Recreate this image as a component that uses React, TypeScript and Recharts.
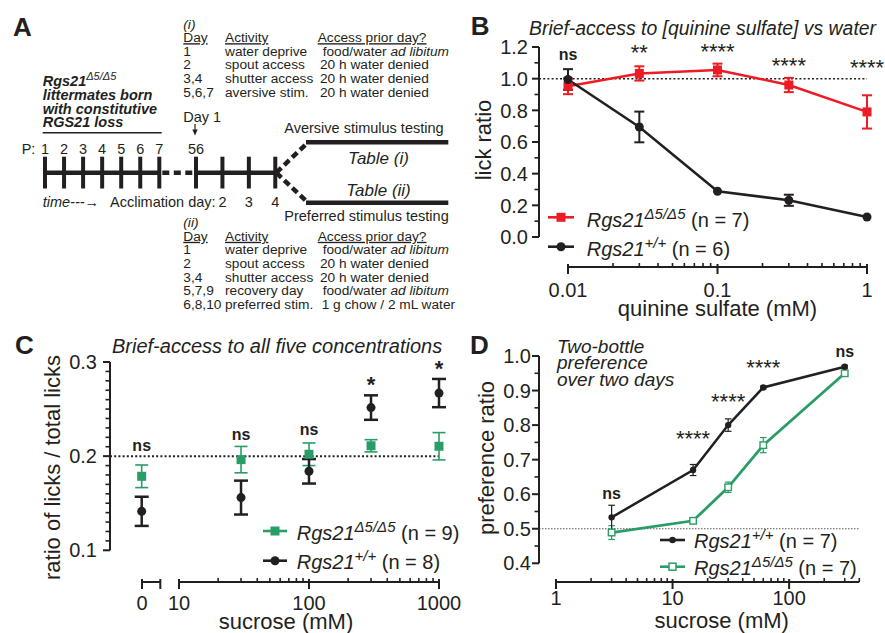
import React from "react";
import {
  ComposedChart,
  ErrorBar,
  Line,
  ReferenceDot,
  ReferenceLine,
  Scatter,
  XAxis,
  YAxis,
} from "recharts";

const FONT = '"Liberation Sans", Arial, Helvetica, sans-serif';
const INK = "#231f20";
const RED = "#ed1c24";
const GREEN = "#2a9d66";

// ---- A: protocol
const postnatalDays = ["1", "2", "3", "4", "5", "6", "7"];
const acclimationDays = ["2", "3", "4"];
const aversiveProtocol = [
  ["1", "water deprive", "food/water ", "ad libitum"],
  ["2", "spout access", "20 h water denied", ""],
  ["3,4", "shutter access", "20 h water denied", ""],
  ["5,6,7", "aversive stim.", "20 h water denied", ""],
];
const preferredProtocol = [
  ["1", "water deprive", "food/water ", "ad libitum"],
  ["2", "spout access", "20 h water denied", ""],
  ["3,4", "shutter access", "20 h water denied", ""],
  ["5,7,9", "recovery day", "food/water ", "ad libitum"],
  ["6,8,10", "preferred stim.", "1 g chow / 2 mL water", ""],
];

// ---- B: brief access, quinine
const quinineMM = [0.01, 0.03, 0.1, 0.3, 1];
const quinineKO = [0.952, 1.033, 1.055, 0.96, 0.79];
const quinineKOErr = [0.05, 0.045, 0.04, 0.045, 0.105];
const quinineWT = [0.995, 0.695, 0.289, 0.232, 0.126];
const quinineWTErr = [0.065, 0.097, 0, 0.035, 0];
const quinineSig = ["ns", "**", "****", "****", "****"];
const quinineSigY = [1.143, 1.198, 1.203, 1.114, 1.099];

// ---- C: brief access, sucrose
const sucroseMM = [0, 30, 100, 300, 1000];
const briefKO = [0.1786, 0.1963, 0.202, 0.211, 0.2105];
const briefKOErr = [0.012, 0.014, 0.012, 0.0065, 0.0145];
const briefWT = [0.1414, 0.156, 0.1839, 0.2516, 0.267];
const briefWTErr = [0.0155, 0.018, 0.013, 0.013, 0.015];
const briefSig = ["ns", "ns", "ns", "*", "*"];
const briefSigY = [0.2097, 0.2221, 0.2264, 0.2814, 0.2981];

// ---- D: two-bottle preference
const prefMM = [3, 15, 30, 60, 300];
const prefWT = [0.533, 0.67, 0.8, 0.909, 0.969];
const prefWTErr = [0.035, 0.016, 0.018, 0.004, 0.004];
const prefKO = [0.489, 0.523, 0.62, 0.742, 0.95];
const prefKOErr = [0.02, 0.006, 0.015, 0.022, 0.006];
const prefSig = ["ns", "****", "****", "****", "ns"];
const prefSigY = [0.599, 0.775, 0.883, 0.98, 1.008];

// panel geometry (page pixels)
const GB = { left: 539, right: 867, top: 47, bottom: 237, axisY: 267, x0: 568 };
const GC = { left: 110, right: 439, top: 361.7, bottom: 550, axisY: 581.7, zeroX: 141.7, zeroEnd: 160, x0: 179 };
const GD = { left: 539, right: 859.3, top: 356, bottom: 563.3, axisY: 581.7, x0: 556 };

const quinineRows = quinineMM.map((x, i) => ({
  x,
  ko: quinineKO[i],
  koErr: quinineKOErr[i],
  wt: quinineWT[i],
  wtErr: quinineWTErr[i],
}));
const prefRows = prefMM.map((x, i) => ({
  x,
  ko: prefKO[i],
  koErr: prefKOErr[i],
  wt: prefWT[i],
  wtErr: prefWTErr[i],
}));
const briefRows = (vals: number[], errs: number[]) =>
  sucroseMM.map((x, i) => ({ x, y: vals[i], err: errs[i] }));
const briefKORows = briefRows(briefKO, briefKOErr);
const briefWTRows = briefRows(briefWT, briefWTErr);

// hidden log axis that reaches from the y axis to the plot's right edge
const extendLogDomain = (plotLeft: number, x0: number, plotRight: number, v0: number, v1: number) => {
  const perDecade = (plotRight - x0) / Math.log10(v1 / v0);
  return [v0 * Math.pow(10, -(x0 - plotLeft) / perDecade), v1];
};

const logTicks = (lo: number, hi: number) => {
  const out: number[] = [];
  for (let e = Math.floor(Math.log10(lo)); e <= Math.ceil(Math.log10(hi)); e++) {
    for (let k = 1; k < 10; k++) {
      const v = Number((k * Math.pow(10, e)).toPrecision(6));
      if (v >= lo * 0.999 && v <= hi * 1.001) out.push(v);
    }
  }
  return out;
};
const isDecade = (v: number) => Math.abs(Math.log10(v) - Math.round(Math.log10(v))) < 1e-9;

const stepTicks = (lo: number, step: number, n: number, digits: number) =>
  Array.from({ length: n }, (_, i) => Number((lo + i * step).toFixed(digits)));

const yTick = (majorEvery: number, gap: number) => (p: any) => {
  const i = p.index;
  const major = i % majorEvery === 0;
  return (
    <g>
      <line
        x1={p.x - (major ? 7 : 4.5)}
        x2={p.x}
        y1={p.y}
        y2={p.y}
        stroke={INK}
        strokeWidth={major ? 2 : 1.6}
      />
      {major && (
        <text x={p.x - gap} y={p.y + 7.2} textAnchor="end" fontSize={20} fontFamily={FONT} fill={INK}>
          {Number(p.payload.value).toFixed(1)}
        </text>
      )}
    </g>
  );
};

const xTick = (isMajor: (v: number) => boolean, fmt: (v: number) => string, labelDy: number) => (p: any) => {
  const v = p.payload.value;
  const major = isMajor(v);
  const label = major ? fmt(v) : "";
  return (
    <g>
      {major ? (
        <line x1={p.x} x2={p.x} y1={p.y - 3} y2={p.y + 7} stroke={INK} strokeWidth={2} />
      ) : (
        <line x1={p.x} x2={p.x} y1={p.y - 6} y2={p.y} stroke={INK} strokeWidth={1.6} />
      )}
      {label && (
        <text x={p.x} y={p.y + labelDy} textAnchor="middle" fontSize={20} fontFamily={FONT} fill={INK}>
          {label}
        </text>
      )}
    </g>
  );
};

const squareDot = (color: string, size: number, open = false) => (p: any) =>
  p.cx == null ? (
    <g key={p.index} />
  ) : (
    <rect
      key={p.index}
      x={p.cx - size / 2}
      y={p.cy - size / 2}
      width={size}
      height={size}
      fill={open ? "#fff" : color}
      stroke={open ? color : "none"}
      strokeWidth={open ? 1.4 : 0}
    />
  );
const circleDot = (color: string, r: number) => (p: any) =>
  p.cx == null ? <g key={p.index} /> : <circle key={p.index} cx={p.cx} cy={p.cy} r={r} fill={color} />;

const sigShape = (label: string, boldStars: boolean) => (p: any) => {
  const star = label.startsWith("*");
  return (
    <text
      x={p.cx}
      y={p.cy + (star ? 12.5 : 4.2)}
      textAnchor="middle"
      fontFamily={FONT}
      fontSize={star ? 22 : 16}
      fontWeight={star && !boldStars ? "normal" : "bold"}
      fill={INK}
    >
      {label}
    </text>
  );
};

function AxisStrip(props: {
  plotLeft: number;
  plotRight: number;
  axisY: number;
  domain: number[];
  scale: "log" | "linear";
  ticks: number[];
  isMajor: (v: number) => boolean;
  fmt: (v: number) => string;
  labelDy: number;
}) {
  const ML = 30, MR = 30, PH = 4, XH = 40;
  return (
    <div style={{ position: "absolute", left: props.plotLeft - ML, top: props.axisY - PH }}>
      <ComposedChart
        width={props.plotRight - props.plotLeft + ML + MR}
        height={PH + XH}
        margin={{ top: 0, right: MR, bottom: 0, left: ML }}
        data={[{ x: props.domain[0] }]}
      >
        <XAxis
          type="number"
          dataKey="x"
          scale={props.scale}
          domain={props.domain}
          ticks={props.ticks}
          interval={0}
          height={XH}
          tickSize={0}
          tickMargin={0}
          tickLine={false}
          axisLine={{ stroke: INK, strokeWidth: 2 }}
          tick={xTick(props.isMajor, props.fmt, props.labelDy)}
          allowDataOverflow
        />
        <YAxis hide domain={[0, 1]} />
      </ComposedChart>
    </div>
  );
}

const YW = 70;

function ChartB() {
  const MT = 32, MR = 18, MB = 12;
  const domain = extendLogDomain(GB.left, GB.x0, GB.right, 0.01, 1);
  return (
    <>
      <div style={{ position: "absolute", left: GB.left - YW, top: GB.top - MT }}>
        <ComposedChart
          width={YW + GB.right - GB.left + MR}
          height={MT + GB.bottom - GB.top + MB}
          margin={{ top: MT, right: MR, bottom: MB, left: 0 }}
          data={quinineRows}
        >
          <XAxis hide type="number" dataKey="x" scale="log" domain={domain} />
          <YAxis
            type="number"
            domain={[0, 1.2]}
            ticks={stepTicks(0, 0.1, 13, 1)}
            interval={0}
            width={YW}
            tickSize={0}
            tickMargin={0}
            tickLine={false}
            axisLine={{ stroke: INK, strokeWidth: 2 }}
            tick={yTick(2, 11)}
          />
          <ReferenceLine y={1} stroke={INK} strokeWidth={1.5} strokeDasharray="2 2.2" />
          <Line
            dataKey="ko"
            type="linear"
            stroke={RED}
            strokeWidth={2.5}
            dot={squareDot(RED, 9)}
            activeDot={false}
            isAnimationActive={false}
          >
            <ErrorBar dataKey="koErr" direction="y" width={5} stroke={RED} strokeWidth={2} isAnimationActive={false} />
          </Line>
          <Line
            dataKey="wt"
            type="linear"
            stroke={INK}
            strokeWidth={2.5}
            dot={circleDot(INK, 4.5)}
            activeDot={false}
            isAnimationActive={false}
          >
            <ErrorBar dataKey="wtErr" direction="y" width={5} stroke={INK} strokeWidth={2} isAnimationActive={false} />
          </Line>
          {quinineMM.map((x, i) => (
            <ReferenceDot
              key={i}
              x={x}
              y={quinineSigY[i]}
              ifOverflow="visible"
              shape={sigShape(quinineSig[i], false)}
            />
          ))}
        </ComposedChart>
      </div>
      <AxisStrip
        plotLeft={GB.x0}
        plotRight={GB.right}
        axisY={GB.axisY}
        domain={[0.01, 1]}
        scale="log"
        ticks={logTicks(0.01, 1)}
        isMajor={isDecade}
        fmt={(v) => String(v)}
        labelDy={29.7}
      />
    </>
  );
}

function ChartC() {
  const MT = 30, MR = 30, MB = 12;
  const logDomain = extendLogDomain(GC.left, GC.x0, GC.right, 10, 1000);
  const f = (GC.zeroX - GC.left) / (GC.right - GC.left);
  const zeroDomain = [-f, 1 - f];
  const series = [
    { rows: briefKORows, color: GREEN, shape: squareDot(GREEN, 9), w: 6.5, sw: 1.6 },
    { rows: briefWTRows, color: INK, shape: circleDot(INK, 4.5), w: 7, sw: 2.5 },
  ];
  return (
    <>
      <div style={{ position: "absolute", left: GC.left - YW, top: GC.top - MT }}>
        <ComposedChart
          width={YW + GC.right - GC.left + MR}
          height={MT + GC.bottom - GC.top + MB}
          margin={{ top: MT, right: MR, bottom: MB, left: 0 }}
        >
          <XAxis hide xAxisId="log" type="number" dataKey="x" scale="log" domain={logDomain} />
          <XAxis hide xAxisId="zero" type="number" dataKey="x" domain={zeroDomain} />
          <YAxis
            type="number"
            domain={[0.1, 0.3]}
            ticks={stepTicks(0.1, 0.01, 21, 2)}
            interval={0}
            width={YW}
            tickSize={0}
            tickMargin={0}
            tickLine={false}
            axisLine={{ stroke: INK, strokeWidth: 2 }}
            tick={yTick(10, 13)}
          />
          <ReferenceLine xAxisId="log" y={0.2} stroke={INK} strokeWidth={2} strokeDasharray="2 2.2" />
          {series.flatMap((s, k) => [
            <Scatter
              key={`z${k}`}
              xAxisId="zero"
              data={s.rows.filter((r) => r.x === 0)}
              dataKey="y"
              shape={s.shape}
              isAnimationActive={false}
            >
              <ErrorBar dataKey="err" direction="y" width={s.w} stroke={s.color} strokeWidth={s.sw} isAnimationActive={false} />
            </Scatter>,
            <Scatter
              key={`l${k}`}
              xAxisId="log"
              data={s.rows.filter((r) => r.x > 0)}
              dataKey="y"
              shape={s.shape}
              isAnimationActive={false}
            >
              <ErrorBar dataKey="err" direction="y" width={s.w} stroke={s.color} strokeWidth={s.sw} isAnimationActive={false} />
            </Scatter>,
          ])}
          {sucroseMM.map((x, i) => (
            <ReferenceDot
              key={i}
              xAxisId={x === 0 ? "zero" : "log"}
              x={x}
              y={briefSigY[i]}
              ifOverflow="visible"
              shape={sigShape(briefSig[i], true)}
            />
          ))}
        </ComposedChart>
      </div>
      <AxisStrip
        plotLeft={GC.zeroX}
        plotRight={GC.zeroEnd}
        axisY={GC.axisY}
        domain={[0, 1]}
        scale="linear"
        ticks={[0, 1]}
        isMajor={() => true}
        fmt={(v) => (v === 0 ? "0" : "")}
        labelDy={28.3}
      />
      <AxisStrip
        plotLeft={GC.x0}
        plotRight={GC.right}
        axisY={GC.axisY}
        domain={[10, 1000]}
        scale="log"
        ticks={logTicks(10, 1000)}
        isMajor={isDecade}
        fmt={(v) => String(v)}
        labelDy={28.3}
      />
    </>
  );
}

function ChartD() {
  const MT = 20, MR = 26, MB = 12;
  const domain = extendLogDomain(GD.left, GD.x0, GD.right, 1, 400);
  return (
    <>
      <div style={{ position: "absolute", left: GD.left - YW, top: GD.top - MT }}>
        <ComposedChart
          width={YW + GD.right - GD.left + MR}
          height={MT + GD.bottom - GD.top + MB}
          margin={{ top: MT, right: MR, bottom: MB, left: 0 }}
          data={prefRows}
        >
          <XAxis hide type="number" dataKey="x" scale="log" domain={domain} />
          <YAxis
            type="number"
            domain={[0.4, 1.0]}
            ticks={stepTicks(0.4, 0.05, 13, 2)}
            interval={0}
            width={YW}
            tickSize={0}
            tickMargin={0}
            tickLine={false}
            axisLine={{ stroke: INK, strokeWidth: 2 }}
            tick={yTick(2, 8)}
          />
          <ReferenceLine y={0.5} stroke="#555" strokeWidth={1} strokeDasharray="1.5 1.5" />
          <Line
            dataKey="ko"
            type="linear"
            stroke={GREEN}
            strokeWidth={2.8}
            dot={squareDot(GREEN, 6.5, true)}
            activeDot={false}
            isAnimationActive={false}
          >
            <ErrorBar dataKey="koErr" direction="y" width={3.3} stroke={GREEN} strokeWidth={1.2} isAnimationActive={false} />
          </Line>
          <Line
            dataKey="wt"
            type="linear"
            stroke={INK}
            strokeWidth={2.5}
            dot={circleDot(INK, 3.2)}
            activeDot={false}
            isAnimationActive={false}
          >
            <ErrorBar dataKey="wtErr" direction="y" width={3.3} stroke={INK} strokeWidth={1.2} isAnimationActive={false} />
          </Line>
          {prefMM.map((x, i) => (
            <ReferenceDot
              key={i}
              x={x}
              y={prefSigY[i]}
              ifOverflow="visible"
              shape={sigShape(prefSig[i], false)}
            />
          ))}
        </ComposedChart>
      </div>
      <AxisStrip
        plotLeft={GD.x0}
        plotRight={GD.right}
        axisY={GD.axisY}
        domain={[1, 400]}
        scale="log"
        ticks={logTicks(1, 400)}
        isMajor={isDecade}
        fmt={(v) => String(v)}
        labelDy={23.3}
      />
    </>
  );
}

function GeneLabel({ x, y, sup, rest, supSize = 15 }: { x: number; y: number; sup: string; rest: string; supSize?: number }) {
  return (
    <text x={x} y={y} fontFamily={FONT} fontSize={20} fill={INK}>
      <tspan fontStyle="italic">Rgs21</tspan>
      <tspan fontStyle="italic" fontSize={supSize} dy={-8}>
        {sup}
      </tspan>
      <tspan dy={8}>{"\u00a0" + rest}</tspan>
    </text>
  );
}

function LegendKey({ x1, x2, y, color, kind, size }: { x1: number; x2: number; y: number; color: string; kind: string; size: number }) {
  const cx = (x1 + x2) / 2;
  return (
    <g>
      <line x1={x1} x2={x2} y1={y} y2={y} stroke={color} strokeWidth={2.6} />
      {kind === "circle" && <circle cx={cx} cy={y} r={size / 2} fill={color} />}
      {kind === "square" && <rect x={cx - size / 2} y={y - size / 2} width={size} height={size} fill={color} />}
      {kind === "open" && (
        <rect x={cx - size / 2} y={y - size / 2} width={size} height={size} fill="#fff" stroke={color} strokeWidth={1.5} />
      )}
    </g>
  );
}

function PanelA() {
  const pX = (i: number) => 45 + i * 19.05;
  const day1X = 196;
  const aX = (i: number) => day1X + (i + 1) * 26.43;
  const lineY = 172.7;
  const fs = 13.7;
  const colDay = 183.3, colAct = 225, colAcc = 317.7;
  const table = (rows: string[][], label: string, base: number) => (
    <g fontFamily={FONT} fontSize={fs} fill={INK}>
      <text x={colDay} y={base} fontStyle="italic">
        {label}
      </text>
      <text x={colDay} y={base + 13.6} textDecoration="underline">
        Day
      </text>
      <text x={colAct} y={base + 13.6} textDecoration="underline">
        Activity
      </text>
      <text x={colAcc} y={base + 13.6} textDecoration="underline">
        Access prior day?
      </text>
      {rows.map((r, k) => {
        const y = base + 27.2 + k * 13.6;
        return (
          <g key={k}>
            <text x={colDay} y={y}>
              {r[0]}
            </text>
            <text x={colAct} y={y}>
              {r[1]}
            </text>
            <text x={r[2].startsWith("food") ? 322.7 : r[2].startsWith("1 g") ? 321.7 : 320} y={y}>
              {r[2]}
              {r[3] && <tspan fontStyle="italic">{r[3]}</tspan>}
            </text>
          </g>
        );
      })}
    </g>
  );
  const tickXs = [...postnatalDays.map((_, i) => pX(i)), day1X, ...acclimationDays.map((_, i) => aX(i))];
  const endX = aX(acclimationDays.length - 1);
  return (
    <g fill={INK} fontFamily={FONT}>
      <text x={13} y={35.7} fontSize={26} fontWeight="bold">
        A
      </text>
      {table(aversiveProtocol, "(i)", 28.6)}
      {table(preferredProtocol, "(ii)", 227.2)}

      <g fontSize={14.5} fontWeight="bold" fontStyle="italic">
        <text x={42.7} y={85.5}>
          Rgs21
          <tspan fontSize={11} fontWeight="normal" dy={-6}>
            Δ5/Δ5
          </tspan>
        </text>
        <text x={42.7} y={100.4}>littermates born</text>
        <text x={42.7} y={113.7}>with constitutive</text>
        <text x={42.7} y={127}>RGS21 loss</text>
      </g>
      <line x1={42.7} x2={161.7} y1={132.7} y2={132.7} stroke={INK} strokeWidth={1.5} />

      <g fontSize={14.5}>
        <text x={21.7} y={153.7}>P:</text>
        {postnatalDays.map((d, i) => (
          <text key={d} x={pX(i)} y={153.7} textAnchor="middle">
            {d}
          </text>
        ))}
        <text x={day1X} y={153.7} textAnchor="middle">
          56
        </text>
        <text x={183.3} y={121.5}>Day 1</text>
        <text x={42.7} y={207} fontStyle="italic">
          time---→
        </text>
        <text x={110} y={207}>Acclimation day:</text>
        {acclimationDays.map((d, i) => (
          <text key={d} x={aX(i)} y={207} textAnchor="middle">
            {d}
          </text>
        ))}
        <text x={284.3} y={133.1}>Aversive stimulus testing</text>
        <text x={284.3} y={221.4}>Preferred stimulus testing</text>
      </g>
      <line x1={195} x2={195} y1={124} y2={131} stroke={INK} strokeWidth={1.2} />
      <polygon points="195,135.5 192.3,129.5 197.7,129.5" fill={INK} />

      <line x1={pX(0)} x2={pX(6)} y1={lineY} y2={lineY} stroke={INK} strokeWidth={4.5} />
      <line x1={pX(6) + 3} x2={day1X - 2} y1={lineY} y2={lineY} stroke={INK} strokeWidth={4.5} strokeDasharray="7 4.5" />
      <line x1={day1X} x2={endX} y1={lineY} y2={lineY} stroke={INK} strokeWidth={4.5} />
      {tickXs.map((x, i) => (
        <line key={i} x1={x} x2={x} y1={156.7} y2={188.5} stroke={INK} strokeWidth={4} />
      ))}
      <line x1={endX + 1} y1={lineY} x2={308} y2={142.3} stroke={INK} strokeWidth={4.5} strokeDasharray="7 4" />
      <line x1={endX + 1} y1={lineY} x2={308} y2={202.7} stroke={INK} strokeWidth={4.5} strokeDasharray="7 4" />
      <line x1={306} x2={448.3} y1={142.3} y2={142.3} stroke={INK} strokeWidth={4.5} />
      <line x1={306} x2={448.3} y1={202.7} y2={202.7} stroke={INK} strokeWidth={4.5} />
      <text x={378.5} y={163.9} fontSize={17} fontStyle="italic" textAnchor="middle">
        Table (i)
      </text>
      <text x={378.5} y={195.5} fontSize={17} fontStyle="italic" textAnchor="middle">
        Table (ii)
      </text>
    </g>
  );
}

function Overlay() {
  return (
    <svg
      width={885}
      height={633}
      style={{ position: "absolute", left: 0, top: 0, pointerEvents: "none" }}
      fontFamily={FONT}
    >
      <PanelA />
      <g fill={INK}>
        {/* B */}
        <text x={470.7} y={35} fontSize={26} fontWeight="bold">
          B
        </text>
        <text x={529} y={35} fontSize={19.4} fontStyle="italic">
          Brief-access to [quinine sulfate] vs water
        </text>
        <text transform="translate(491,140) rotate(-90)" textAnchor="middle" fontSize={22}>
          lick ratio
        </text>
        <text x={717.5} y={316} textAnchor="middle" fontSize={22}>
          quinine sulfate (mM)
        </text>
        <LegendKey x1={548} x2={574} y={217.3} color={RED} kind="square" size={9} />
        <GeneLabel x={586.7} y={226.7} sup="Δ5/Δ5" rest="(n = 7)" />
        <LegendKey x1={548} x2={574} y={246.7} color={INK} kind="circle" size={9} />
        <GeneLabel x={586.7} y={256} sup="+/+" rest="(n = 6)" />

        {/* C */}
        <text x={15} y={354} fontSize={26} fontWeight="bold">
          C
        </text>
        <text x={112} y={352.6} fontSize={20} fontStyle="italic">
          Brief-access to all five concentrations
        </text>
        <text transform="translate(59.5,467.5) rotate(-90)" textAnchor="middle" fontSize={22}>
          ratio of licks / total licks
        </text>
        <text x={286} y={629} textAnchor="middle" fontSize={22}>
          sucrose (mM)
        </text>
        <LegendKey x1={263} x2={287} y={531} color={GREEN} kind="square" size={9} />
        <GeneLabel x={296.7} y={540} sup="Δ5/Δ5" rest="(n = 9)" />
        <LegendKey x1={263} x2={287} y={560.7} color={INK} kind="circle" size={9} />
        <GeneLabel x={296.7} y={568.5} sup="+/+" rest="(n = 8)" />

        {/* D */}
        <text x={470} y={354} fontSize={26} fontWeight="bold">
          D
        </text>
        <g fontSize={19} fontStyle="italic">
          <text x={557} y={352.5}>Two-bottle</text>
          <text x={557} y={369}>preference</text>
          <text x={557} y={385.5}>over two days</text>
        </g>
        <text transform="translate(494,458) rotate(-90)" textAnchor="middle" fontSize={22}>
          preference ratio
        </text>
        <text x={721.7} y={628} textAnchor="middle" fontSize={22}>
          sucrose (mM)
        </text>
        <LegendKey x1={660} x2={685} y={540} color={INK} kind="circle" size={6.5} />
        <GeneLabel x={694} y={548.3} sup="+/+" rest="(n = 7)" />
        <LegendKey x1={660} x2={685} y={566.7} color={GREEN} kind="open" size={7} />
        <GeneLabel x={694} y={575} sup="Δ5/Δ5" rest="(n = 7)" />
      </g>
    </svg>
  );
}

export default function App() {
  return (
    <div
      style={{
        position: "absolute",
        left: 0,
        top: 0,
        width: 885,
        height: 633,
        background: "#fff",
        overflow: "hidden",
        fontFamily: FONT,
      }}
    >
      <ChartB />
      <ChartC />
      <ChartD />
      <Overlay />
    </div>
  );
}
